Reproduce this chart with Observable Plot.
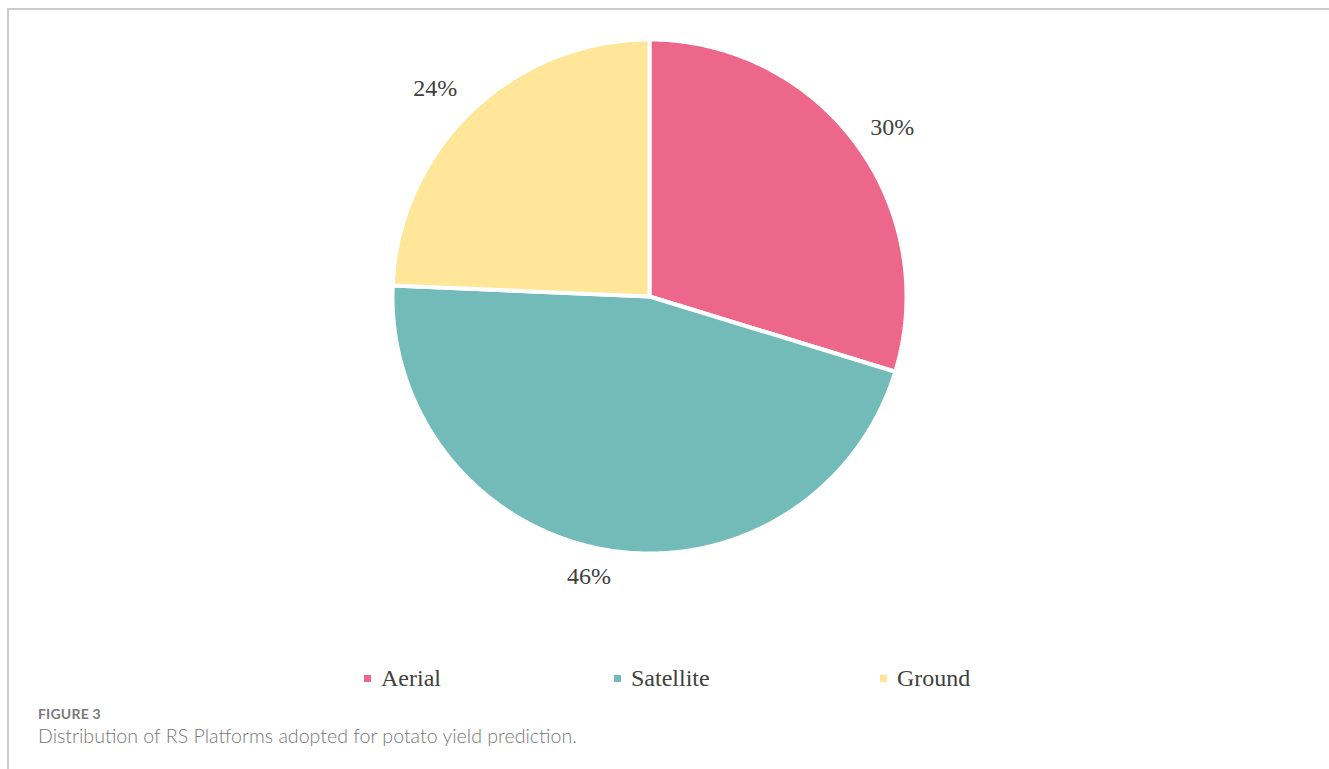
<!DOCTYPE html>
<html>
<head>
<meta charset="utf-8">
<script src="https://cdn.jsdelivr.net/npm/d3@7"></script>
<script src="https://cdn.jsdelivr.net/npm/@observablehq/plot@0.6"></script>
<style>
  html, body { margin: 0; padding: 0; background: #fff; }
  body { width: 1329px; height: 769px; position: relative; overflow: hidden; }
  #frame { position: absolute; left: 7px; top: 8px; right: 0; bottom: 0; border-top: 2px solid #cccccc; border-left: 2px solid #cccccc; }
  #chart { position: absolute; left: 0; top: 0; }
  #legend { position: absolute; top: 665px; left: 0; width: 1329px; height: 32px; font-family: "Liberation Serif", "Times New Roman", serif; font-size: 24px; color: #404040; }
  .li { position: absolute; top: 0; display: flex; align-items: center; white-space: nowrap; }
  .sw { width: 7px; height: 7px; margin-right: 10px; }
  #fig { position: absolute; left: 38px; top: 705px; font-family: Lato, "Open Sans", sans-serif; font-size: 14px; color: #7a7a7a; font-weight: 700; letter-spacing: 0.2px; }
  #cap { position: absolute; left: 38px; top: 724px; font-family: Lato, "Open Sans", sans-serif; font-size: 19.6px; color: #777; font-weight: 300; }
</style>
</head>
<body>
<div id="frame"></div>
<div id="chart"></div>
<div id="legend"></div>
<div id="fig">FIGURE 3</div>
<div id="cap">Distribution of RS Platforms adopted for potato yield prediction.</div>
<script>
const categories = ["Aerial", "Satellite", "Ground"];
const counts = [11, 17, 9];
const labels = ["30%", "46%", "24%"];
const colors = ["#EC6789", "#72BBB9", "#FFE699"];
// small pixel nudges for the outside-end labels (styling)
const labelNudge = [[3, 8], [-10, -14], [-8, 7]];

const W = 1329, H = 640, cx = 649, cy = 296, R = 257;

const pie = d3.pie().sort(null).value(d => d.count)(categories.map((c, i) => ({cat: c, count: counts[i], label: labels[i]})));

const pts = [];
pie.forEach(s => {
  const n = Math.max(2, Math.ceil((s.endAngle - s.startAngle) / 0.01));
  pts.push({cat: s.data.cat, x: 0, y: 0});
  for (let k = 0; k <= n; k++) {
    const a = s.startAngle + (s.endAngle - s.startAngle) * k / n;
    pts.push({cat: s.data.cat, x: Math.sin(a), y: Math.cos(a)});
  }
  pts.push({cat: s.data.cat, x: 0, y: 0});
});

const lab = pie.map((s, i) => {
  const a = (s.startAngle + s.endAngle) / 2;
  return {
    label: s.data.label,
    x: 1.16 * Math.sin(a) + labelNudge[i][0] / R,
    y: 1.16 * Math.cos(a) - labelNudge[i][1] / R
  };
});

const plot = Plot.plot({
  width: W, height: H,
  margin: 0,
  x: {domain: [-cx / R, (W - cx) / R], range: [0, W], axis: null},
  y: {domain: [-(H - cy) / R, cy / R], range: [H, 0], axis: null},
  color: {domain: categories, range: colors},
  style: {background: "transparent"},
  marks: [
    Plot.line(pts, {x: "x", y: "y", z: "cat", fill: "cat", stroke: "white", strokeWidth: 4, strokeLinejoin: "miter", curve: "linear"}),
    Plot.text(lab, {x: "x", y: "y", text: "label", fontSize: 24, fill: "#404040", fontFamily: "Liberation Serif, Times New Roman, serif"})
  ]
});
document.getElementById("chart").appendChild(plot);

const legendPos = [364, 614, 880];
const lg = document.getElementById("legend");
categories.forEach((c, i) => {
  const d = document.createElement("div");
  d.className = "li";
  d.style.left = legendPos[i] + "px";
  d.innerHTML = `<span class="sw" style="background:${colors[i]}"></span><span>${c}</span>`;
  lg.appendChild(d);
});
</script>
</body>
</html>
